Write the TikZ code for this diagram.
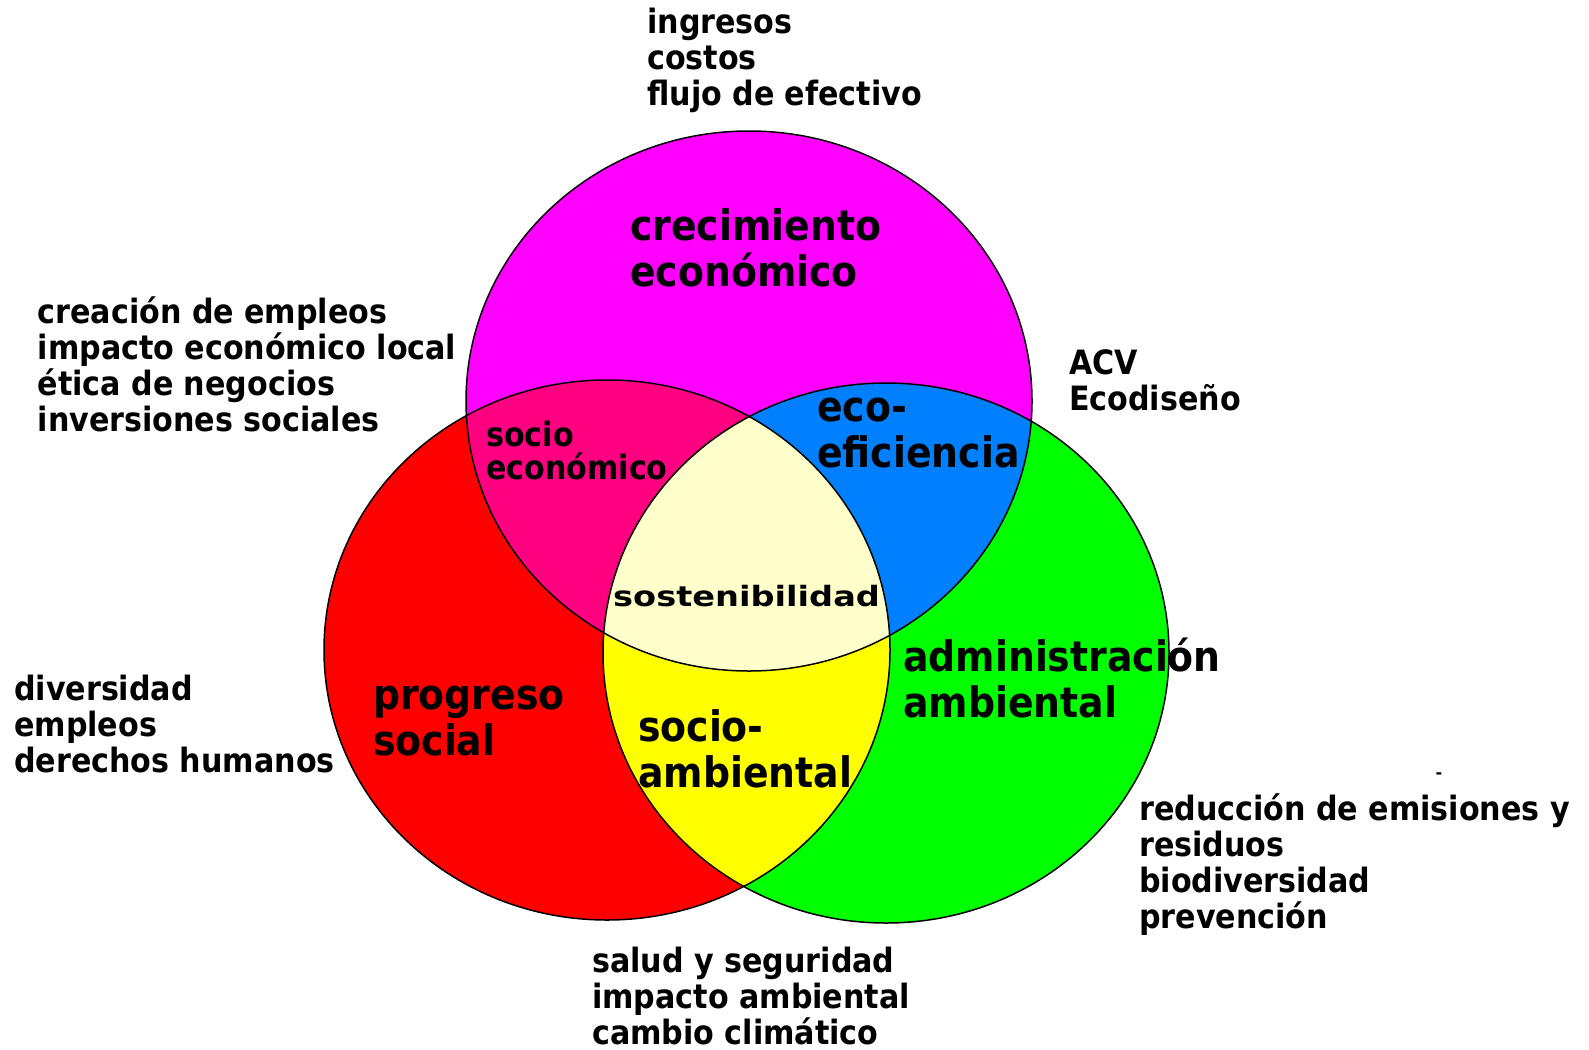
\documentclass[tikz,border=0pt]{standalone}
\usepackage{fontspec}
\setmainfont{DejaVu Sans}
\newfontfamily\condfont{DejaVu Sans Condensed}
\newfontfamily\widefont{DejaVu Sans}[FakeStretch=1.2]

\definecolor{econcolor}{RGB}{255,0,255}
\definecolor{socialcolor}{RGB}{255,0,0}
\definecolor{envcolor}{RGB}{0,255,0}
\definecolor{socioeconcolor}{RGB}{255,0,128}
\definecolor{ecoeffcolor}{RGB}{0,128,255}
\definecolor{socioenvcolor}{RGB}{255,255,0}
\definecolor{sustaincolor}{RGB}{255,255,204}

\providecommand{\outerfontsize}{\fontsize{33.5pt}{35.8pt}\selectfont}
\providecommand{\areafontsize}{\fontsize{42pt}{45.5pt}\selectfont}
\providecommand{\smallareafontsize}{\fontsize{33.5pt}{33pt}\selectfont}

% anchor base = baseline of the last line
\tikzset{
    outertext/.style={anchor=base west,inner sep=0,align=left,font=\condfont\bfseries\outerfontsize},
    areatext/.style={anchor=base west,inner sep=0,align=left,font=\condfont\bfseries\areafontsize},
}

\begin{document}
\begin{tikzpicture}[x=1pt,y=-1pt]
    \pgfmathsetmacro{\ellipsexradius}{283}
    \pgfmathsetmacro{\ellipseyradius}{270}
    \fill[white] (0,0) rectangle (1589,1049);
    \useasboundingbox (0,0) rectangle (1589,1049);
    \coordinate (econ) at (749,401);
    \coordinate (social) at (607,650);
    \coordinate (env) at (886,653);
    % the three circles
    \fill[econcolor] (econ) ellipse [x radius=\ellipsexradius, y radius=\ellipseyradius];
    \fill[socialcolor] (social) ellipse [x radius=\ellipsexradius, y radius=\ellipseyradius];
    \fill[envcolor] (env) ellipse [x radius=\ellipsexradius, y radius=\ellipseyradius];
    % overlaps
    \begin{scope}
        \clip (econ) ellipse [x radius=\ellipsexradius, y radius=\ellipseyradius];
        \fill[socioeconcolor] (social) ellipse [x radius=\ellipsexradius, y radius=\ellipseyradius];
        \fill[ecoeffcolor] (env) ellipse [x radius=\ellipsexradius, y radius=\ellipseyradius];
    \end{scope}
    \begin{scope}
        \clip (social) ellipse [x radius=\ellipsexradius, y radius=\ellipseyradius];
        \fill[socioenvcolor] (env) ellipse [x radius=\ellipsexradius, y radius=\ellipseyradius];
        \clip (econ) ellipse [x radius=\ellipsexradius, y radius=\ellipseyradius];
        \fill[sustaincolor] (env) ellipse [x radius=\ellipsexradius, y radius=\ellipseyradius];
    \end{scope}
    \draw[line width=1.5pt] (econ) ellipse [x radius=\ellipsexradius, y radius=\ellipseyradius];
    \draw[line width=1.5pt] (social) ellipse [x radius=\ellipsexradius, y radius=\ellipseyradius];
    \draw[line width=1.5pt] (env) ellipse [x radius=\ellipsexradius, y radius=\ellipseyradius];
    % labels inside
    \node[areatext] (growth) at (630,286) {crecimiento\\económico};
    \node[outertext,font=\condfont\bfseries\smallareafontsize] (socioecon) at (486,479) {socio\\económico};
    \node[areatext] (ecoeff) at (817,467) {eco-\\eficiencia};
    \node[anchor=base west,inner sep=0,font=\widefont\bfseries\fontsize{28pt}{30pt}\selectfont] (sustain) at (613,606) {sostenibilidad};
    \node[areatext] (progress) at (373,755) {progreso\\social};
    \node[areatext] (envadmin) at (903,717) {administración\\ambiental};
    \node[areatext] (socioenv) at (638,787) {socio-\\ambiental};
    % lists outside
    \node[outertext] (econlist) at (647,105.5) {ingresos\\costos\\flujo de efectivo};
    \node[outertext] (socioeconlist) at (37.5,431) {creación de empleos\\impacto económico local\\ética de negocios\\inversiones sociales};
    \node[outertext] (ecoefflist) at (1069,410) {ACV\\Ecodiseño};
    \node[outertext] (sociallist) at (14,772) {diversidad\\empleos\\derechos humanos};
    \node[outertext] (envlist) at (1139,928) {reducción de emisiones y\\residuos\\biodiversidad\\prevención};
    \node[outertext] (socioenvlist) at (592,1044) {salud y seguridad\\impacto ambiental\\cambio climático};
    \node[inner sep=0,font=\bfseries\fontsize{16pt}{16pt}\selectfont] (stray) at (1439,776) {-};
\end{tikzpicture}
\end{document}
